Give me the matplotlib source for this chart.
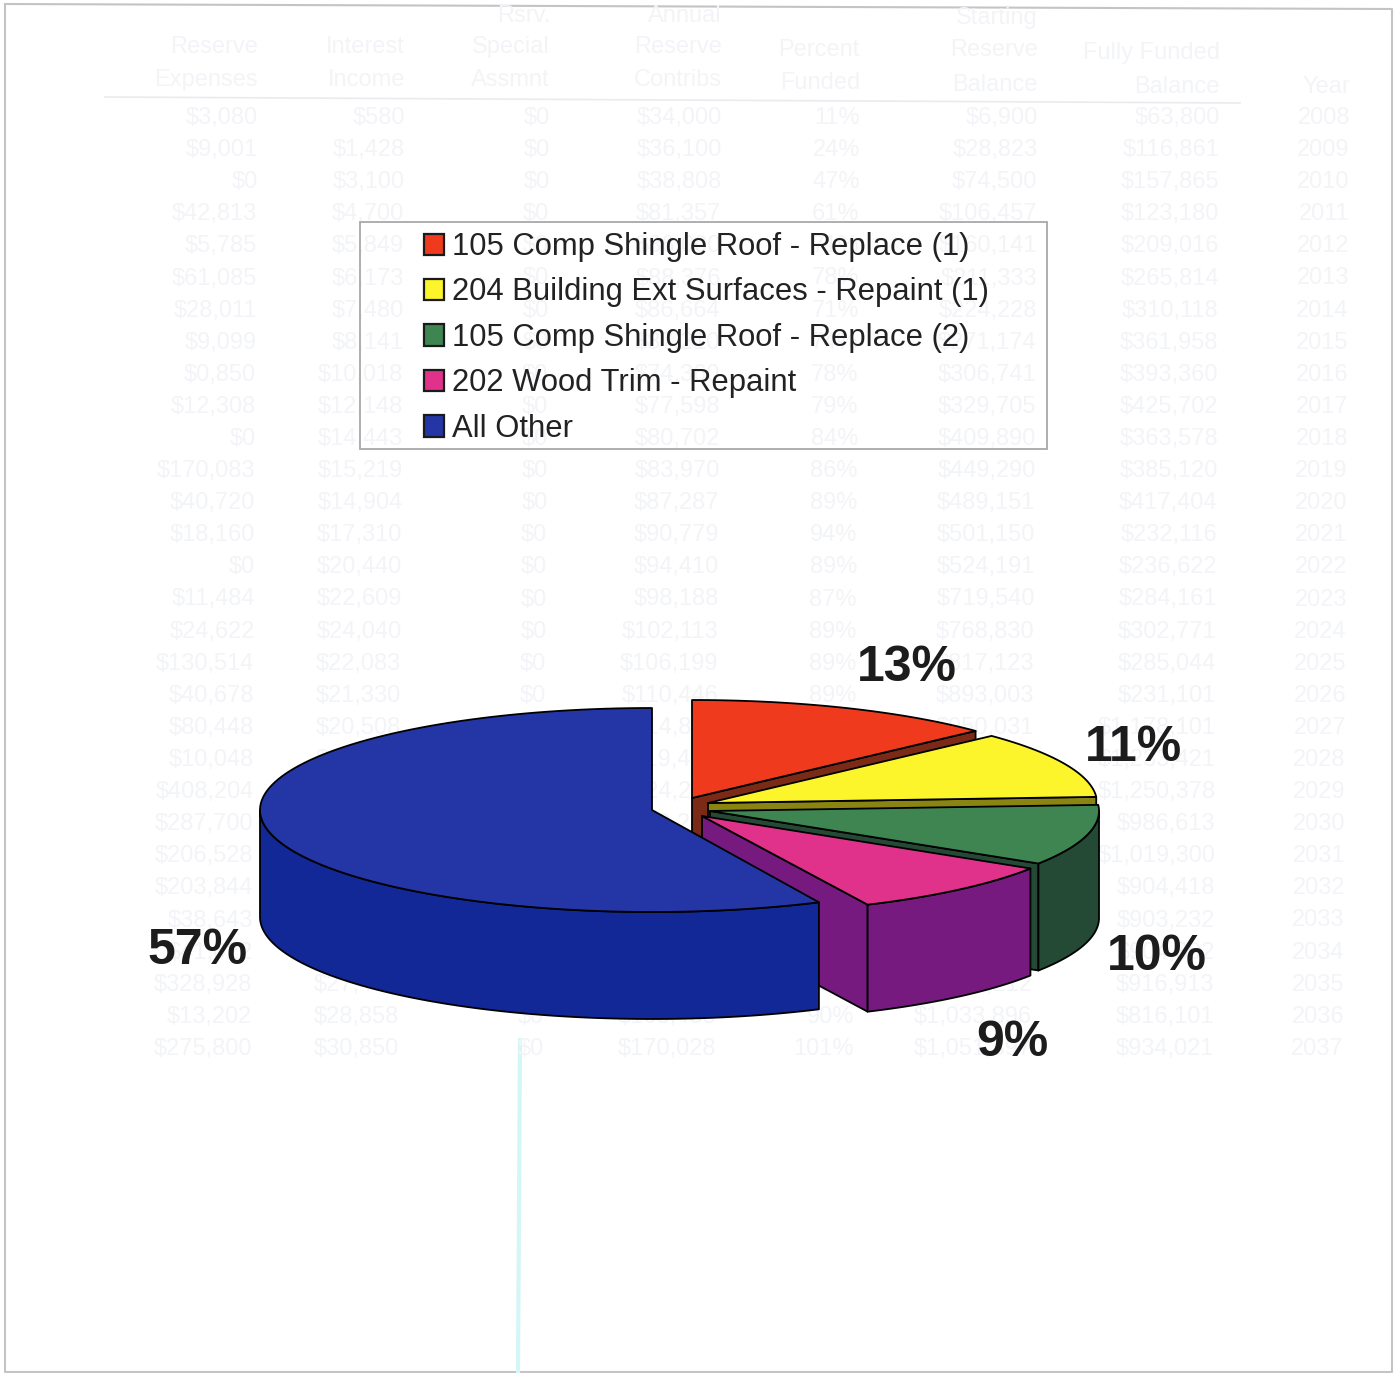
import numpy as np
import matplotlib
matplotlib.use("Agg")
import matplotlib.pyplot as plt
from matplotlib.patches import Patch, Rectangle

plt.rcParams['font.family'] = ['Liberation Sans', 'DejaVu Sans']

# chart data
labels = ['105 Comp Shingle Roof - Replace (1)', '204 Building Ext Surfaces - Repaint (1)',
          '105 Comp Shingle Roof - Replace (2)', '202 Wood Trim - Repaint', 'All Other']
shares = [13, 11, 10, 9, 57]
top_colors = ['#f03a1e', '#fdf52c', '#3f8552', '#e0328a', '#2436a6']
wall_colors = ['#7c2a18', '#8a8412', '#244a36', '#761a80', '#122896']

# faint table showing through from the back of the page
years = ['2008', '2009', '2010', '2011', '2012', '2013', '2014', '2015', '2016', '2017',
         '2018', '2019', '2020', '2021', '2022', '2023', '2024', '2025', '2026', '2027',
         '2028', '2029', '2030', '2031', '2032', '2033', '2034', '2035', '2036', '2037']
fully_funded = ['$63,800', '$116,861', '$157,865', '$123,180', '$209,016', '$265,814', '$310,118', '$361,958',
                '$393,360', '$425,702', '$363,578', '$385,120', '$417,404', '$232,116', '$236,622', '$284,161',
                '$302,771', '$285,044', '$231,101', '$1,178,101', '$1,233,421', '$1,250,378', '$986,613',
                '$1,019,300', '$904,418', '$903,232', '$904,892', '$916,913', '$816,101', '$934,021']
balance = ['$6,900', '$28,823', '$74,500', '$106,457', '$160,141', '$211,333', '$224,228', '$271,174',
           '$306,741', '$329,705', '$409,890', '$449,290', '$489,151', '$501,150', '$524,191', '$719,540',
           '$768,830', '$817,123', '$893,003', '$950,031', '$1,019,032', '$1,186,838', '$1,100,100',
           '$1,010,321', '$1,053,200', '$1,002,812', '$1,060,190', '$1,090,212', '$1,033,896', '$1,051,397']
percent = ['11%', '24%', '47%', '61%', '71%', '78%', '71%', '74%', '78%', '79%',
           '84%', '86%', '89%', '94%', '89%', '87%', '89%', '89%', '89%', '88%',
           '88%', '89%', '90%', '91%', '89%', '89%', '90%', '90%', '90%', '101%']
contribs = ['$34,000', '$36,100', '$38,808', '$81,357', '$86,000', '$88,376', '$86,664', '$87,210',
            '$74,360', '$77,598', '$80,702', '$83,970', '$87,287', '$90,779', '$94,410', '$98,188',
            '$102,113', '$106,199', '$110,446', '$114,864', '$119,460', '$124,238', '$129,207',
            '$134,376', '$139,751', '$145,341', '$151,154', '$157,200', '$163,488', '$170,028']
special = ['$0'] * 30
interest = ['$580', '$1,428', '$3,100', '$4,700', '$5,849', '$6,173', '$7,480', '$8,141', '$10,018', '$12,148',
            '$14,443', '$15,219', '$14,904', '$17,310', '$20,440', '$22,609', '$24,040', '$22,083', '$21,330', '$20,508',
            '$21,902', '$19,431', '$23,060', '$21,002', '$24,313', '$25,200', '$28,118', '$27,402', '$28,858', '$30,850']
expenses = ['$3,080', '$9,001', '$0', '$42,813', '$5,785', '$61,085', '$28,011', '$9,099', '$0,850', '$12,308',
            '$0', '$170,083', '$40,720', '$18,160', '$0', '$11,484', '$24,622', '$130,514', '$40,678', '$80,448',
            '$10,048', '$408,204', '$287,700', '$206,528', '$203,844', '$38,643', '$41,022', '$328,928', '$13,202', '$275,800']
ghost_columns = [(258, expenses), (405, interest), (550, special), (722, contribs),
                 (860, percent), (1038, balance), (1220, fully_funded), (1350, years)]
ghost_headers = [(258, 'Reserve', 47), (258, 'Expenses', 80), (405, 'Interest', 47), (405, 'Income', 80),
                 (550, 'Rsrv.', 16), (550, 'Special', 47), (550, 'Assmnt', 80),
                 (722, 'Annual', 16), (722, 'Reserve', 47), (722, 'Contribs', 80),
                 (860, 'Percent', 50), (860, 'Funded', 83), (1038, 'Starting', 18), (1038, 'Reserve', 50),
                 (1038, 'Balance', 85), (1220, 'Fully Funded', 53), (1220, 'Balance', 87), (1350, 'Year', 87)]

# top-face tip and radii of each slice, in pixels
tips = [(692, 798), (708, 803), (710, 811), (702, 816), (652, 810)]
radii_x = [389, 389, 389, 389, 392]
radii_y = [98, 98, 98, 98, 102]
depth = 107

fig = plt.figure(figsize=(13.97, 13.73), dpi=100)
ax = fig.add_axes([0, 0, 1, 1])
ax.set_xlim(0, 1397)
ax.set_ylim(1373, 0)
ax.axis('off')

ghost = '#f3f4f7'
for x, text, y in ghost_headers:
    ax.text(x, y, text, ha='right', va='center', fontsize=17, color=ghost)
for x, col in ghost_columns:
    for i, s in enumerate(col):
        ax.text(x - 6 * i / 29, 118 + 32.1 * i, s, ha='right', va='center', fontsize=17, color=ghost)
ax.plot([105, 1240], [97, 103], color='#e9ebee', lw=1.2)

# page edge and the scanner streak
ax.plot([5, 5, 1392, 1392, 5], [4, 1372, 1372, 9, 4], color='#c4c4c4', lw=1.5)
ax.plot([520, 518], [1040, 1373], color='#d4f6f6', lw=3)


def arc(tip, rx, ry, a0, a1):
    t = np.radians(np.linspace(a0, a1, 120))
    return tip[0] + rx * np.cos(t), tip[1] - ry * np.sin(t)


start = 90.0
for share, tip, rx, ry, top, wall in zip(shares, tips, radii_x, radii_y, top_colors, wall_colors):
    end = start - share * 3.6
    xs, ys = arc(tip, rx, ry, start, end)
    style = dict(edgecolor='black', linewidth=1.3, joinstyle='round', zorder=3)
    # cut face along the slice's clockwise edge
    if end > -90:
        ax.fill([tip[0], xs[-1], xs[-1], tip[0]],
                [tip[1], ys[-1], ys[-1] + depth, tip[1] + depth], facecolor=wall, **style)
    # outer rim where it faces the viewer
    hi, lo = min(start, 0), max(end, -180)
    if hi > lo:
        rim_x, rim_y = arc(tip, rx, ry, hi, lo)
        ax.fill(np.r_[rim_x, rim_x[::-1]], np.r_[rim_y, rim_y[::-1] + depth], facecolor=wall, **style)
    ax.fill(np.r_[tip[0], xs], np.r_[tip[1], ys], facecolor=top, **style)
    start = end

# percentage labels
label_pos = [(907, 668), (1133, 748), (1157, 957), (1012, 1043), (198, 951)]
for share, (x, y) in zip(shares, label_pos):
    ax.text(x, y, f'{share}%', ha='center', va='center', fontsize=36, fontweight='bold',
            color='#1c1c1c', zorder=5)

# legend
ax.add_patch(Rectangle((360, 222), 687, 227, fill=False, edgecolor='#a8a8a8', lw=1.3, zorder=4))
handles = [Patch(facecolor=c, edgecolor='#1a1a1a', linewidth=1.6) for c in top_colors]
ax.legend(handles, labels, loc='upper left', bbox_to_anchor=(424 / 1397, 1 - 232 / 1373), frameon=False,
          fontsize=22.3, labelcolor='#222222', borderpad=0, borderaxespad=0, handlelength=0.65,
          handleheight=0.68, handletextpad=0.26, labelspacing=0.5)

fig.savefig('out.png', dpi=100, facecolor='white')
